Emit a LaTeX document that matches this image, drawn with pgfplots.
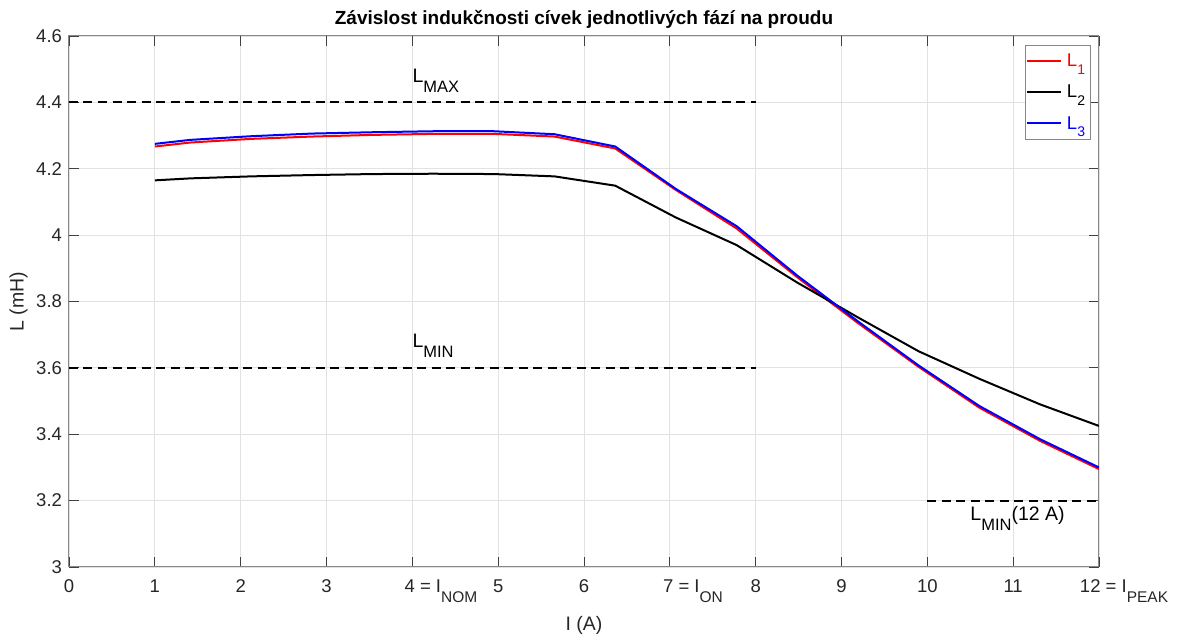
\documentclass[border=0pt]{standalone}
\usepackage{fontspec}
\setmainfont{Liberation Sans}
\usepackage{pgfplots}
\pgfplotsset{compat=1.18}

\definecolor{ticktext}{RGB}{38,38,38}
\definecolor{gridgray}{RGB}{226,226,226}
\definecolor{boxgray}{RGB}{135,135,135}

% lowered subscript: size, drop, text
\newcommand\lo[3]{\raisebox{-#2}{\fontsize{#1}{#1}\selectfont #3}}
% tick label that starts a given distance left of its tick
\newcommand\shiftlbl[2]{\makebox[0pt][l]{\hspace{-#1}#2}}

\begin{document}
\begin{tikzpicture}
\begin{axis}[
  at={(0pt,0pt)}, anchor=south west,
  scale only axis, width=1030pt, height=531pt,
  xmin=0, xmax=12, ymin=3, ymax=4.6,
  xtick={0,1,...,12},
  xticklabels={0,1,2,3,\shiftlbl{7.7pt}{4 = I\lo{15.5}{10pt}{NOM}},5,6,\shiftlbl{6.7pt}{7 = I\lo{15.5}{10pt}{ON}},8,9,10,11,\shiftlbl{19pt}{12 = I\lo{15.5}{10pt}{PEAK}}},
  ytick={3,3.2,3.4,3.6,3.8,4,4.2,4.4,4.6},
  yticklabels={3,3.2,3.4,3.6,3.8,4,4.2,4.4,4.6},
  xtick pos=both, ytick pos=both,
  xticklabel pos=lower, yticklabel pos=left,
  tick align=inside, major tick length=10pt,
  tick style={black!75, line width=0.8pt},
  axis line style={boxgray, line width=1pt},
  grid=major, grid style={gridgray, line width=0.8pt},
  /pgf/number format/assume math mode=true,
  ticklabel style={font=\fontsize{18.5}{21}\selectfont, text=ticktext},
  xticklabel style={yshift=-9.5pt},
  yticklabel style={xshift=-3.5pt},
  xlabel={I (A)},
  xlabel style={at={(axis description cs:0.5,0)}, anchor=north, inner sep=0pt,
    yshift=-49pt, font=\fontsize{19.5}{22}\selectfont, text=ticktext},
  ylabel={L (mH)},
  % the label is already turned by 90 degrees, so its local y points left
  ylabel style={at={(axis description cs:0,0.5)}, anchor=center,
    yshift=50.5pt, font=\fontsize{19.5}{22}\selectfont, text=ticktext},
  title={Závislost indukčnosti cívek jednotlivých fází na proudu},
  title style={at={(axis description cs:0.5,1)}, anchor=base, inner sep=0pt,
    yshift=5pt, font=\fontsize{19}{21}\selectfont\bfseries},
  legend style={at={(axis description cs:0.9922,0.983)}, anchor=north east,
    draw=boxgray, line width=0.8pt, fill=white,
    font=\fontsize{18.5}{20}\selectfont,
    inner xsep=1pt, inner ysep=6pt, row sep=12pt,
    nodes={inner xsep=4.5pt, inner ysep=2.5pt}},
  legend cell align=left,
  legend image code/.code={\draw[#1] (0pt,0pt) -- (34pt,0pt);},
]

% limit levels
\addplot[forget plot, black, line width=2pt, dash pattern=on 9pt off 5.5pt]
  coordinates {(0,4.4) (8,4.4)};
\addplot[forget plot, black, line width=2pt, dash pattern=on 9pt off 5.5pt]
  coordinates {(0,3.6) (8,3.6)};
\addplot[forget plot, black, line width=2pt, dash pattern=on 9pt off 5.5pt]
  coordinates {(10,3.2) (12,3.2)};

% phase 1
\addplot[red, line width=2pt] coordinates {
  (1,4.267) (1.414,4.279) (2.121,4.290) (2.828,4.297) (3.536,4.302)
  (4.243,4.305) (4.950,4.305) (5.657,4.297) (6.364,4.261) (7.071,4.136)
  (7.778,4.020) (8.485,3.873) (9.192,3.735) (9.899,3.603) (10.607,3.480)
  (11.314,3.380) (12,3.295)};
\addlegendentry{\textcolor{red}{L\lo{14}{7.5pt}{1}}}

% phase 2
\addplot[black, line width=2pt] coordinates {
  (1,4.165) (1.414,4.171) (2.121,4.177) (2.828,4.181) (3.536,4.184)
  (4.243,4.185) (4.950,4.184) (5.657,4.177) (6.364,4.149) (7.071,4.053)
  (7.778,3.970) (8.485,3.857) (9.192,3.752) (9.899,3.650) (10.607,3.567)
  (11.314,3.490) (12,3.425)};
\addlegendentry{\textcolor{black}{L\lo{14}{7.5pt}{2}}}

% phase 3
\addplot[blue, line width=2pt] coordinates {
  (1,4.275) (1.414,4.287) (2.121,4.298) (2.828,4.306) (3.536,4.310)
  (4.243,4.313) (4.950,4.313) (5.657,4.304) (6.364,4.267) (7.071,4.139)
  (7.778,4.027) (8.485,3.878) (9.192,3.740) (9.899,3.607) (10.607,3.485)
  (11.314,3.385) (12,3.300)};
\addlegendentry{\textcolor{blue}{L\lo{14}{7.5pt}{3}}}

\node[anchor=base west, inner sep=0pt, font=\fontsize{19.5}{22}\selectfont]
  at (axis cs:4,4.461) {L\lo{16.5}{10pt}{MAX}};
\node[anchor=base west, inner sep=0pt, font=\fontsize{19.5}{22}\selectfont]
  at (axis cs:4,3.66) {L\lo{16.5}{10pt}{MIN}};
\node[anchor=base west, inner sep=0pt, font=\fontsize{19.5}{22}\selectfont]
  at (axis cs:10.5,3.139) {L\lo{16.5}{10pt}{MIN}(12 A)};
\end{axis}
\pgfresetboundingbox
\path (-69pt,-70pt) rectangle (1115pt,567pt);
\end{tikzpicture}
\end{document}
